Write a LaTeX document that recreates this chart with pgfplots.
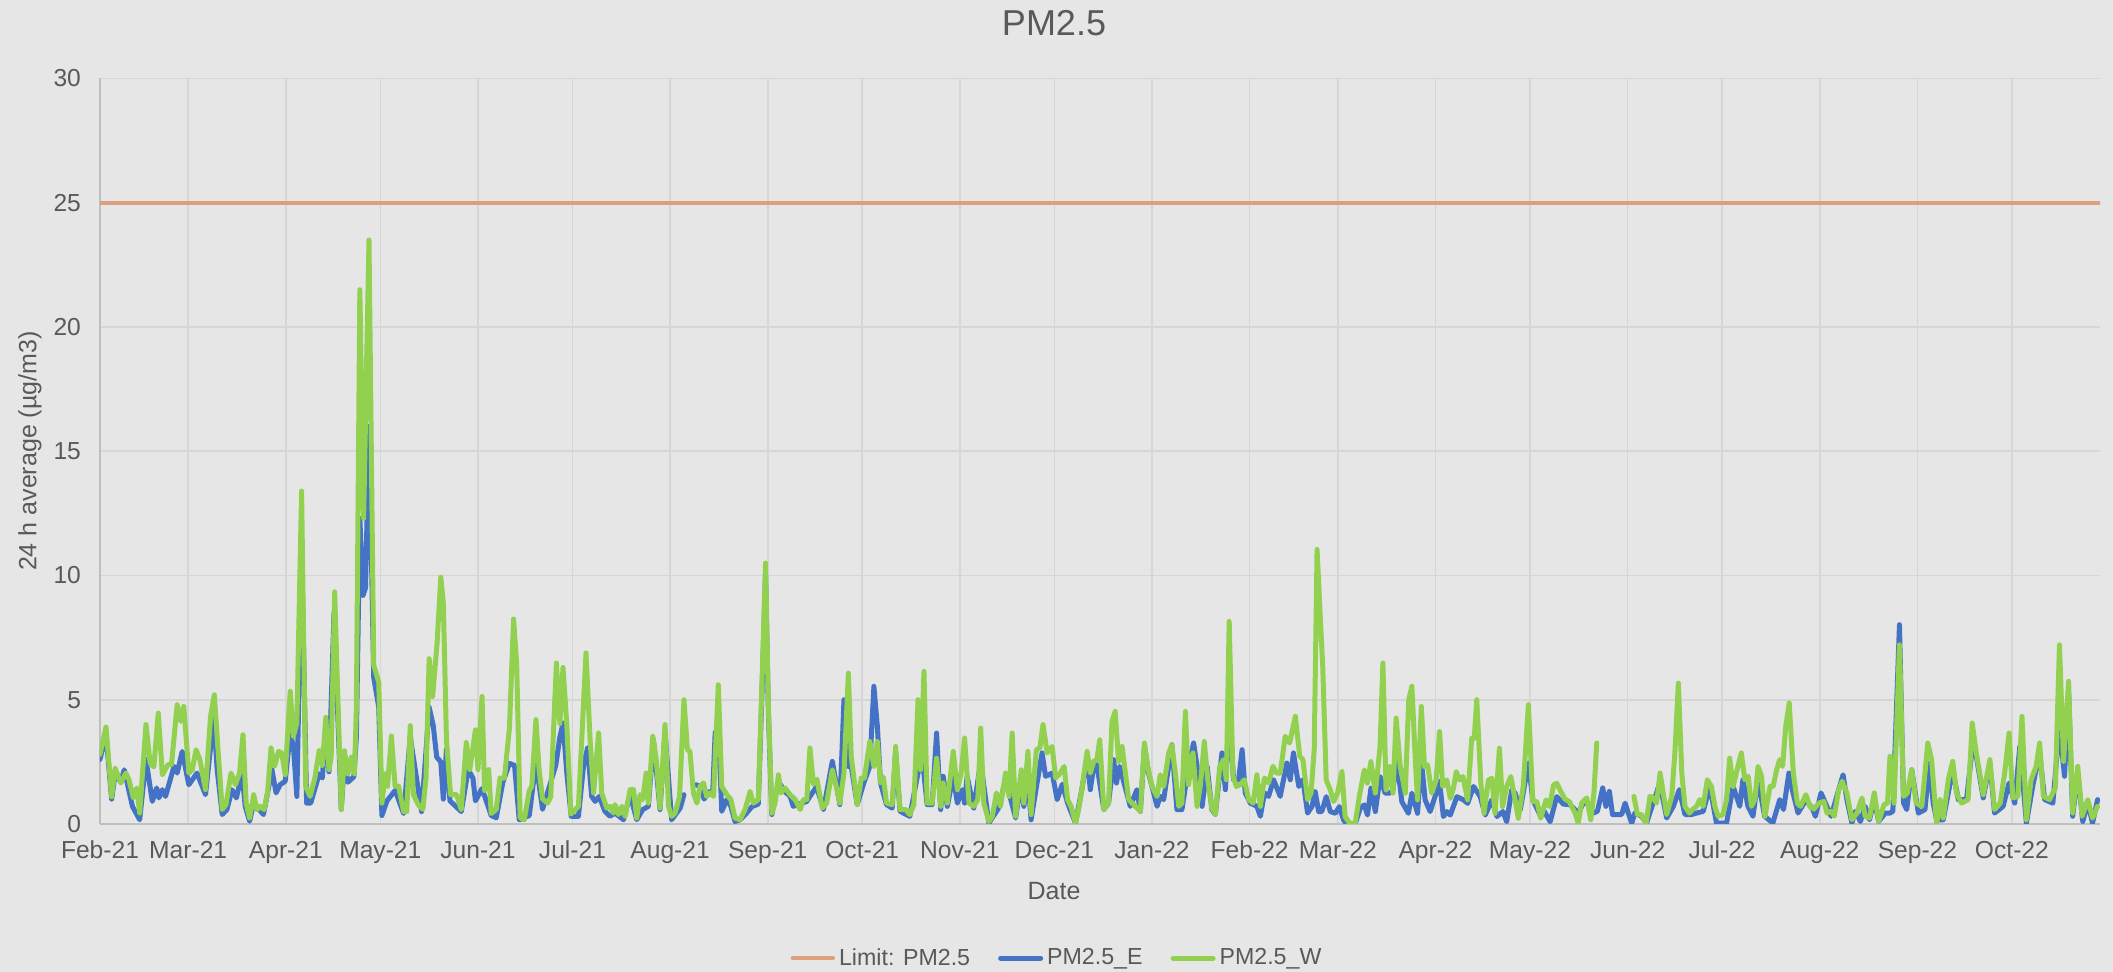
\documentclass[border=0pt]{standalone}
\usepackage{fontspec}
\setmainfont{Liberation Sans}
\usepackage{pgfplots}
\pgfplotsset{compat=1.18}
\definecolor{bg}{HTML}{E6E6E6}
\definecolor{txt}{HTML}{595959}
\definecolor{gridc}{HTML}{D6D6D6}
\definecolor{axc}{HTML}{BFBFBF}
\definecolor{limc}{HTML}{DDA07E}
\definecolor{bluec}{HTML}{4472C4}
\definecolor{greenc}{HTML}{92D050}
\begin{document}
\begin{tikzpicture}
\fill[bg] (-50pt,-74pt) rectangle (1006.5pt,412pt);
\path[use as bounding box] (-50pt,-74pt) rectangle (1006.5pt,412pt);
\begin{axis}[at={(0,0)}, anchor=south west,
  width=1000pt, height=372.75pt, scale only axis,
  xmin=0, xmax=635, ymin=0, ymax=30,
  axis x line*=bottom, axis y line*=left,
  axis line style={draw=axc, line width=1pt, -},
  grid=major, major grid style={draw=gridc, line width=0.8pt},
  major tick length=0pt,
  ytick={0,5,10,15,20,25,30},
  xtick={0,28,59,89,120,150,181,212,242,273,303,334,365,393,424,454,485,515,546,577,607},
  xticklabels={Feb-21,Mar-21,Apr-21,May-21,Jun-21,Jul-21,Aug-21,Sep-21,Oct-21,Nov-21,Dec-21,Jan-22,Feb-22,Mar-22,Apr-22,May-22,Jun-22,Jul-22,Aug-22,Sep-22,Oct-22},
  /pgf/number format/assume math mode=true,
  ticklabel style={font=\fontsize{12.3}{14}\selectfont, text=txt},
  xticklabel style={yshift=-5pt},
  yticklabel style={xshift=-6pt},
  unbounded coords=jump,
  legend style={at={(0.479,-0.18)}, anchor=center, draw=none, fill=none,
    legend columns=3, font=\fontsize{11.6}{14}\selectfont, text=txt,
    /tikz/every even column/.append style={column sep=12pt}},
  legend image code/.code={\draw[#1] (0pt,0pt) -- (20pt,0pt);},
  every axis plot/.append style={line join=round, line cap=round},
]
\addplot[limc, line width=2.2pt] coordinates {(0,25) (635,25)};
\addlegendentry{Limit: PM2.5}
\addplot[bluec, line width=2.5pt] coordinates {
(0,2.6) (1.9,3.6) (3.7,1.0) (4.8,2.0) (6.6,1.7) (7.7,2.18) (10.3,0.71) (12.6,0.17) (14.6,2.59) (16.6,0.91) (18,1.45) (18.7,1.05) (19.8,1.38) (20.8,1.11) (23.5,2.32) (24.5,2.05) (26.1,2.92) (28.2,1.58) (30.8,2.05) (33.5,1.18) (36.1,4.26) (37.2,2.18) (38.8,0.38) (40.3,0.58) (41.9,1.38) (43.3,1.05) (45.1,2.05) (46.1,0.71) (47.5,0.11) (48.8,0.84) (51.9,0.38) (54.6,2.18) (55.9,1.25) (57.2,1.58) (58.8,1.72) (60.4,3.66) (61.4,3.12) (62.5,1.11) (64,11) (65.6,0.84)
(66.9,0.84) (69.6,2.02) (70.6,1.85) (71.7,4.04) (72.7,2.1) (74.3,8.5) (75.6,4.0) (76.6,0.59) (77.6,2.5) (78.7,1.68) (80.6,1.9) (81.4,3.5) (82.5,12.3) (83.5,9.2) (84.3,9.5) (85.4,16.0) (86.9,5.9) (88.5,4.7) (89.5,0.34) (91.1,0.93) (93.7,1.35) (96.4,0.42) (98.5,3.5) (102.1,0.5) (104.5,4.7) (105.8,3.96) (106.9,2.69) (108.2,2.5) (109,1.0) (110,3.0) (111.1,0.93) (114.7,0.5) (116.9,2.19) (118.4,1.85) (119.2,0.93) (121.3,1.43) (124.2,0.34) (125.8,0.25) (127.9,1.68) (130,2.44) (131.6,2.36) (133.1,0.17) (136.3,0.34) (138.4,2.5) (140.5,0.59) (144.7,2.36) (146,3.5) (147,4.06)
(148.2,2.05) (149.6,0.31) (151.9,0.31) (153.5,2.32) (154.8,3.06) (156.1,1.11) (157.2,0.91) (158.5,1.11) (160.3,0.51) (161.9,0.31) (163.5,0.44) (166.2,0.17) (168.3,1.18) (170.4,0.17) (172.3,0.58) (174.1,0.71) (175.7,3.39) (177.8,0.58) (179.4,3.66) (181.5,0.17) (184.2,0.64) (185.4,1.18) (186.5,nan) (189.3,1.58) (190.5,1.5) (191.8,1.0) (193.3,1.3) (194.5,1.2) (195.3,3.66) (196.3,3.93) (197.4,0.51) (199,0.98) (200.3,0.71) (201.6,0.1) (203.2,0.17) (205,0.4) (207,0.7) (209,0.8) (210.1,5.0) (211.3,10.0) (212.2,4.5) (213.3,0.38) (215.4,1.7) (217.5,1.3) (219.1,1.11) (220.1,0.71) (224.4,0.91) (225.4,1.11)
(227.5,1.5) (229.7,0.58) (232.5,2.52) (234.9,0.78) (236.2,5.0) (237.5,2.32) (238.5,2.32) (240.4,0.78) (242.5,1.65) (244.4,2.32) (245.7,5.54) (246.8,3.93) (247.8,1.65) (249.7,0.78) (251.5,0.64) (252.6,2.86) (254,0.51) (257.1,0.31) (259.7,2.05) (261.1,2.59) (262.6,0.78) (264.2,0.78) (265.6,3.66) (266.9,0.58) (267.7,1.92) (269,0.71) (270.9,1.92) (272.2,0.84) (273.8,1.38) (274.5,0.84) (275.3,1.92) (277.4,0.64) (279.6,2.5) (282.2,0.04) (285.3,0.64) (287.5,1.78) (290.7,0.24) (292.5,1.78) (293.3,0.71) (294.6,1.78) (295.6,0.17) (297.5,1.65) (299.1,2.86) (300.2,1.92) (302.3,2.05) (303.9,0.98) (305.5,1.6)
(307.2,0.84) (309.7,0.04) (311.8,1.45) (313.4,2.72) (314.4,1.38) (315.5,2.32) (316.5,2.39) (318.7,0.58) (320.2,0.84) (321.8,2.59) (322.7,1.65) (323.7,2.32) (327.1,0.71) (329.2,1.38) (330.3,0.51) (331.6,3.12) (332.9,2.05) (335.6,0.71) (336.6,1.11) (337.7,0.98) (340.3,3.19) (341.9,0.58) (343.5,0.58) (345.6,2.32) (347.2,3.26) (348.3,2.32) (349.9,0.71) (351.5,2.32) (353,0.58) (354.1,0.38) (356.2,2.86) (357.3,1.38) (358.5,4.46) (359.9,1.78) (361.5,1.78) (362.6,2.99) (363.6,1.25) (365.2,0.84) (367.3,0.71) (368.4,0.31) (369.7,1.25) (371,1.11) (372.6,1.78) (374.7,1.11) (376.8,2.45) (377.9,1.78) (378.9,2.86) (380.6,1.51) (381.9,1.78) (383.4,0.44) (384.8,0.71) (385.8,1.3)
(386.9,0.5) (387.9,0.5) (389.3,1.1) (390.6,0.5) (392.2,0.43) (393.5,0.7) (394.8,0.16) (395.9,0) (398.5,0) (400.1,0.63) (401.4,0.77) (402.4,0.36) (403.5,1.44) (404.9,0.5) (406.4,1.91) (408,1.24) (409.4,1.24) (410.5,1.37) (411.7,2.65) (413.3,0.9) (415.4,0.43) (416.5,1.24) (418.3,0.43) (419.5,2.58) (420.7,0.97) (422.3,0.5) (424.2,1.24) (425.3,1.71) (426.5,0.3) (427.6,0.5) (428.7,0.36) (430.8,1.1) (432.9,0.97) (434.2,0.83) (436.1,1.51) (438.2,1.1) (439.8,0.36) (441.9,0.97) (443.5,0.3) (445.4,0.5) (446.6,0.09) (448.2,1.37) (449.3,1.24) (450.9,0.56) (453.5,2.45) (454.9,0.97) (457.2,0.36) (458.3,0.56) (460.4,0.09) (462.5,1.1) (464.6,0.8)
(466.7,0.78) (468.3,0.58) (469.4,0.44) (470.9,0.84) (472.5,0.84) (474.1,0.44) (475.4,0.51) (477.1,1.45) (478.1,0.71) (479.2,1.31) (480.2,0.38) (481.7,0.38) (483.1,0.38) (484.2,0.84) (485.2,0.44) (486.3,0.04) (487.3,0.44) (489.4,0.31) (491,0.04) (493.1,0.84) (495.2,1.65) (497.4,0.24) (499.5,0.71) (501.4,1.38) (503.2,0.38) (505.3,0.38) (506.9,0.44) (509,0.51) (511.1,1.51) (513.2,0.04) (516.4,0.04) (518.5,1.51) (520.6,0.71) (521.6,1.78) (523.2,0.71) (524.8,0.31) (526.4,1.78) (528.5,0.31) (531.1,0.04) (533.3,0.98) (534.5,0.58) (536.2,2.05) (537.5,1.25) (539.1,0.44) (541.7,0.98) (543.8,0.58)
(544.6,0.31) (546.4,1.25) (547.8,0.84) (549.6,0.31) (552,1.38) (553.4,1.98) (554.6,0.98) (556.2,0.04) (557.3,0.51) (558.9,0.1) (560.4,0.71) (561.8,0.17) (563.3,0.98) (564.7,0.1) (566.8,0.44) (568.3,0.44) (569.2,0.51) (571.3,8.02) (572.6,0.84) (573.6,0.58) (575.2,2.18) (577.3,0.44) (579.4,0.58) (580.8,2.45) (582,0.84) (583.1,0.17) (585.2,0.17) (588.2,2.18) (590,0.98) (592.6,0.98) (594.7,3.39) (595.7,2.72) (597.9,1.05) (600,2.45) (601.5,0.44) (604.2,0.71) (606.1,1.65) (607.9,0.84) (609.5,3.12) (611.6,0.04) (613.7,1.58) (615.8,2.86) (617.4,0.98) (620,0.84) (622.1,3.93) (623.7,1.92) (625,5.27) (626.3,0.31) (627.9,2.05) (629.5,0.1) (631.1,0.84) (632.6,0.04) (634.2,0.98)
};
\addlegendentry{PM2.5\_E}
\addplot[greenc, line width=2.5pt] coordinates {
(0,2.8) (1.9,3.9) (3.7,1.1) (4.8,2.25) (6.6,1.65) (8.2,2.05) (9.2,1.78) (10.6,1.05) (11.7,1.45) (12.6,0.44) (14.6,4.0) (15.9,2.45) (17.1,2.3) (18.5,4.46) (19.8,1.98) (21.6,2.39) (22.7,2.39) (24.5,4.8) (25.6,4.13) (26.6,4.73) (28.2,2.05) (29.3,2.18) (30.5,2.99) (31.7,2.59) (33.5,1.38) (35.1,4.33) (36.3,5.2) (37.4,3.12) (38.8,0.58) (40,0.78) (41.6,2.05) (43,1.58) (44.3,2.05) (45.4,3.59) (46.4,0.84) (47.5,0.24) (48.8,1.18) (49.8,0.58) (50.9,0.71) (52.1,0.58) (53.2,1.25) (54.3,3.06) (55.4,2.32) (56.7,2.92) (57.7,2.86) (58.8,1.98) (60.4,5.34) (61.4,3.53) (62.5,4.06) (64,13.4) (65.3,1.51) (66.7,1.11)
(68.2,1.85) (69.6,2.95) (70.6,2.36) (71.7,4.29) (72.7,2.19) (73.4,2.69) (74.5,9.34) (75.6,4.71) (76.6,0.59) (77.6,2.95) (78.7,2.02) (79.8,2.69) (80.8,2.02) (81.4,4.7) (82.5,21.5) (83.7,12.3) (85.4,23.5) (86.9,6.4) (88.5,5.7) (89.5,0.84) (90.6,2.02) (91.3,1.52) (92.5,3.54) (93.7,1.52) (94.8,1.52) (96.4,0.5) (97.4,0.5) (98.5,3.96) (99.5,1.18) (101.1,0.76) (102.5,0.59) (103.5,1.85) (104.5,6.65) (105.6,5.13) (107,7.24) (108.2,9.93) (109,8.9) (110,3.37) (111.3,1.18) (113.2,1.18) (114.7,0.59) (116.3,3.28) (117.4,2.19) (119.2,3.79) (120,2.19) (121.3,5.13) (122.1,1.35) (123.4,2.19) (124.2,0.42) (125.8,0.59) (127,1.85) (128.4,1.85) (130,3.87) (131.3,8.25) (132.3,6.4) (133.4,0.25) (134.7,0.17) (136.3,1.35) (137.1,1.52) (138.4,4.2) (139.4,2.19) (140.5,1.01) (142.1,0.84) (143.1,1.09) (144.9,6.48) (146,4.04) (147,6.3) (148.2,4.0) (149.5,0.4)
(151.9,0.71) (154.3,6.88) (155.6,3.39) (156.7,1.25) (158.3,3.66) (159.3,1.25) (160.9,0.64) (162,0.71) (163,0.44) (163.5,0.78) (164.6,0.38) (165.7,0.71) (166.7,0.31) (168.3,1.38) (169.4,1.38) (170.4,0.24) (171.5,1.18) (172.3,0.98) (173.4,2.05) (174.1,0.84) (175.5,3.53) (176.6,2.59) (177.8,0.64) (179.4,4.0) (180.5,0.71) (181.5,0.31) (182.6,0.44) (184,1.11) (185.4,5.0) (186.5,2.99) (187.3,2.92) (188.4,1.25) (189.5,0.84) (190.5,1.51) (191.6,1.65) (192.6,1.11) (193.7,1.25) (194.8,1.11) (196.3,5.6) (197.4,1.51) (199,1.18) (200.3,0.98) (201.6,0.24) (203.2,0.17) (204.8,0.58) (206.4,1.31) (207.4,0.84) (209,0.98) (210.1,5.4) (211.3,10.5) (212.2,4.73) (213.3,0.44) (214.3,0.84) (215.4,1.98) (216.2,1.25) (217.5,1.45) (219.1,1.18) (220.7,0.98) (222.3,0.58) (223.3,0.98) (224.4,0.98) (225.4,3.06) (226.5,1.6) (227.6,1.8)
(229.3,0.64) (230.7,0.84) (232.5,2.18) (233.5,1.65) (234.9,0.84) (236.2,2.05) (237.6,6.07) (238.5,2.72) (240.4,0.78) (241.7,1.85) (242.7,1.85) (244.4,3.32) (245.7,2.32) (246.8,3.32) (247.8,1.65) (248.7,1.89) (249.7,0.84) (251.5,0.78) (252.6,3.12) (254,0.58) (255.8,0.58) (257.1,0.38) (258.4,0.78) (259.7,5.0) (260.5,2.18) (261.6,6.14) (262.6,0.84) (264.2,0.84) (265.6,2.65) (266.9,0.71) (267.7,1.65) (269,0.84) (270.9,2.92) (272.2,1.38) (273.4,2.05) (274.5,3.46) (275.9,0.84) (277.4,0.71) (278.7,0.98) (279.6,3.86) (280.6,0.84) (282.2,0.1) (283.3,0.31) (284.6,1.25) (285.9,0.71) (287.5,2.05) (288.6,1.11) (289.6,3.66) (290.7,0.31) (292.5,2.18) (293.3,0.84) (294.6,2.92) (295.6,0.38) (297.3,2.99) (298.4,3.06) (299.4,4.0) (300.7,2.86) (302.3,3.12) (303.4,1.85) (304.9,2.05) (306.1,2.32)
(307.2,0.98) (308.3,0.71) (309.7,0.04) (310.7,0.58) (311.8,1.45) (313.4,2.92) (314.4,2.05) (315.5,2.52) (316.5,2.59) (317.4,3.39) (318.7,0.58) (320.2,0.84) (321.3,4.13) (322.3,4.53) (323.4,2.52) (324.5,3.12) (326.6,0.98) (328.7,0.71) (330.3,0.51) (331.6,3.26) (332.6,2.32) (334,1.51) (335.6,1.11) (336.6,1.98) (337.7,1.51) (339.3,2.86) (340.3,3.19) (341.4,2.05) (342.5,0.71) (343.5,0.84) (344.6,4.53) (345.6,1.58) (347,2.86) (348.3,0.71) (349.3,1.51) (350.6,3.32) (351.7,1.78) (353,0.64) (354.1,0.38) (355.5,2.32) (356.7,2.59) (357.6,1.78) (358.5,8.15) (359.7,1.92) (360.8,1.51) (362,1.58) (363.3,1.78) (364.7,0.98) (366.1,0.84) (367.3,1.98) (368.4,0.71) (369.7,1.85) (371,1.65) (372.4,2.32) (373.5,2.05) (374.7,2.05) (376.3,3.53) (377.7,3.26) (379.5,4.33) (380.9,2.72) (381.9,2.59) (383.4,0.98) (384.5,1.25) (385.5,3.0)
(386.4,11.05) (387.4,8.36) (388.2,6.34) (389.3,1.77) (390.6,1.37) (391.6,0.9) (392.9,1.24) (394.3,2.11) (395.3,0.3) (396.9,0) (398.5,0.03) (399.9,1.17) (401.4,2.18) (402.4,1.64) (403.5,2.51) (404.9,1.24) (406.4,3.12) (407.3,6.48) (408.3,1.37) (409.4,2.31) (410.5,1.24) (411.5,4.26) (412.8,2.31) (414.4,1.24) (415.5,5.0) (416.5,5.54) (417.7,2.31) (418.3,0.97) (419.5,4.73) (420.5,2.31) (421.5,2.38) (422.8,1.24) (424.2,1.77) (425.3,3.72) (426.3,1.51) (427.6,1.77) (428.7,1.03) (429.7,1.44) (430.6,2.11) (431.6,1.77) (432.7,1.91) (434.2,0.97) (435.5,3.45) (436.3,3.45) (437.1,5.0) (438.4,1.64) (439.4,0.43) (440.8,1.77) (441.9,1.84) (442.9,0.43) (444.3,3.05) (445.3,0.7) (446.6,1.51) (447.9,1.91) (448.9,1.24) (450.3,0.23) (451.9,1.57) (453.5,4.8) (454.9,0.9) (456.2,0.9) (457.4,0.23) (459.1,0.97) (460.2,0.7) (461.5,1.57) (462.5,1.64) (463.8,1.3) (465.1,1.0)
(466.5,0.9) (467.2,0.71) (468.3,0.44) (469.3,0.04) (470.4,0.84) (472,1.05) (473.3,0.17) (474.3,1.25) (475.2,3.26) (476,nan) (487,1.11) (488.1,0.38) (489.4,0.38) (490.8,0) (492.1,1.11) (493.1,1.05) (494.2,0.84) (495.3,2.05) (496.3,1.25) (497.4,0.38) (499,1.11) (500,2.86) (501.1,5.67) (502.2,2.05) (503.2,0.71) (504.6,0.44) (505.6,0.58) (506.9,0.71) (507.9,0.98) (509,0.71) (510.3,1.78) (511.6,1.51) (512.7,0.71) (513.7,0.31) (515.3,0.38) (516.4,0.98) (517.4,2.65) (518.5,1.51) (519.5,2.05) (521.1,2.86) (522.2,1.78) (523.3,1.92) (524.3,0.71) (525.4,0.98) (526.4,2.32) (527.5,1.92) (528.6,0.31) (530.2,1.51) (531.2,1.51) (532.3,2.18) (533.3,2.59) (534.2,2.32) (535.2,3.93) (536.3,4.87) (537.6,2.05) (538.9,0.84) (539.9,0.71) (541.6,1.18) (542.9,0.7)
(544.1,0.6) (545.7,0.84) (547.3,0.91) (548.3,0.44) (549.6,0.51) (550.6,0.31) (552,1.38) (553.1,1.72) (554.6,1.25) (556.2,0.17) (557.8,0.44) (559.4,1.05) (560.4,0.31) (561.8,0.24) (563.3,1.25) (564.7,0.1) (566.4,0.78) (567.5,0.84) (568.3,2.72) (569.6,0.84) (571.3,7.21) (572.6,1.11) (573.8,1.25) (575.2,2.18) (576.6,0.84) (578.4,0.71) (580.3,3.26) (581.5,2.59) (583.1,0) (584.2,0.98) (585.2,0.24) (586.8,1.78) (588.2,2.52) (589.4,1.25) (591,0.84) (593.1,0.98) (594.4,4.06) (595.7,2.86) (597.9,1.18) (600,2.59) (601.5,0.58) (603.3,0.84) (604.7,2.05) (606.1,3.66) (607.3,1.05) (608.9,1.11) (610.2,4.33) (611.6,0.17) (613.1,1.78) (614.7,2.32) (615.8,3.26) (617,1.11) (618.9,0.98) (620.8,1.45) (622.1,7.21) (623.4,2.52) (625,5.74) (626.3,0.44) (627.9,2.32) (629.3,0.31) (631.1,0.98) (632.6,0.24) (634.2,0.71)
};
\addlegendentry{PM2.5\_W}
\end{axis}
\node[text=txt, font=\fontsize{18}{21}\selectfont] at (477pt,400.5pt) {PM2.5};
\node[text=txt, font=\fontsize{12.5}{15}\selectfont] at (477pt,-33.5pt) {Date};
\node[text=txt, font=\fontsize{12.5}{15}\selectfont, rotate=90] at (-35pt,186.4pt) {24 h average (µg/m3)};
\end{tikzpicture}
\end{document}
